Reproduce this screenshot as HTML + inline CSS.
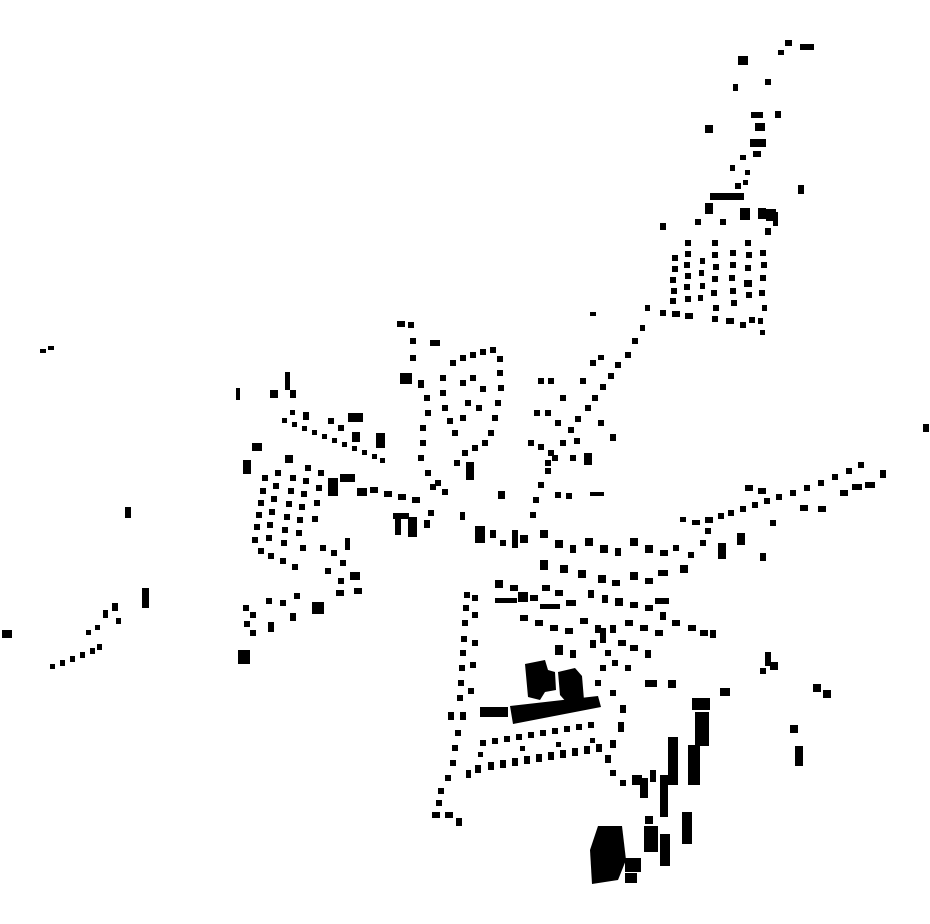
<!DOCTYPE html>
<html><head><meta charset="utf-8"><style>html,body{margin:0;padding:0;background:#fff}svg{display:block}</style></head>
<body>
<svg width="930" height="924" viewBox="0 0 930 924" xmlns="http://www.w3.org/2000/svg">
<g fill="#000">
<!-- north arm -->
<rect x="785" y="40" width="7" height="6"/><rect x="800" y="44" width="14" height="6"/><rect x="778" y="50" width="6" height="5"/><rect x="738" y="56" width="10" height="9"/><rect x="765" y="79" width="6" height="6"/><rect x="733" y="84" width="5" height="7"/><rect x="775" y="111" width="6" height="7"/><rect x="751" y="112" width="12" height="6"/><rect x="755" y="123" width="10" height="8"/><rect x="705" y="125" width="8" height="8"/><rect x="750" y="139" width="16" height="8"/><rect x="740" y="155" width="6" height="5"/><rect x="753" y="151" width="8" height="6"/><rect x="730" y="165" width="5" height="6"/><rect x="745" y="170" width="5" height="5"/><rect x="735" y="183" width="6" height="6"/><rect x="743" y="180" width="5" height="5"/><rect x="798" y="185" width="6" height="9"/><rect x="710" y="193" width="34" height="7"/><rect x="705" y="203" width="8" height="11"/><rect x="740" y="208" width="10" height="12"/><rect x="758" y="208" width="8" height="11"/><rect x="766" y="209" width="10" height="12"/><rect x="773" y="212" width="5" height="14"/><rect x="660" y="223" width="6" height="7"/><rect x="695" y="219" width="6" height="6"/><rect x="720" y="219" width="6" height="6"/><rect x="765" y="228" width="6" height="7"/>
<!-- NE grid -->
<rect x="672" y="255" width="6" height="6"/><rect x="672" y="266" width="6" height="6"/><rect x="670" y="277" width="6" height="6"/><rect x="671" y="288" width="6" height="6"/><rect x="670" y="298" width="6" height="6"/>
<rect x="685" y="240" width="6" height="6"/><rect x="685" y="251" width="6" height="6"/><rect x="684" y="262" width="6" height="6"/><rect x="685" y="273" width="6" height="6"/><rect x="684" y="284" width="6" height="6"/><rect x="685" y="296" width="6" height="6"/>
<rect x="700" y="258" width="5" height="6"/><rect x="699" y="270" width="5" height="6"/><rect x="700" y="283" width="5" height="6"/><rect x="698" y="295" width="5" height="6"/>
<rect x="712" y="240" width="6" height="6"/><rect x="712" y="252" width="6" height="6"/><rect x="713" y="264" width="6" height="6"/><rect x="712" y="276" width="6" height="6"/><rect x="711" y="290" width="6" height="6"/><rect x="713" y="305" width="6" height="6"/>
<rect x="730" y="250" width="6" height="6"/><rect x="730" y="262" width="6" height="6"/><rect x="729" y="275" width="6" height="6"/><rect x="730" y="288" width="6" height="6"/><rect x="731" y="300" width="6" height="6"/>
<rect x="745" y="240" width="6" height="6"/><rect x="746" y="252" width="6" height="6"/><rect x="745" y="265" width="6" height="6"/><rect x="744" y="280" width="8" height="7"/><rect x="746" y="292" width="6" height="6"/>
<rect x="760" y="250" width="6" height="6"/><rect x="761" y="262" width="6" height="6"/><rect x="760" y="275" width="6" height="6"/><rect x="759" y="290" width="6" height="6"/><rect x="762" y="305" width="5" height="6"/><rect x="758" y="318" width="5" height="6"/><rect x="760" y="330" width="5" height="5"/>
<rect x="660" y="310" width="6" height="6"/><rect x="672" y="311" width="8" height="6"/><rect x="685" y="313" width="8" height="6"/><rect x="712" y="316" width="6" height="6"/><rect x="726" y="318" width="8" height="6"/><rect x="740" y="322" width="6" height="6"/><rect x="749" y="317" width="6" height="6"/>
<!-- diagonal road -->
<rect x="645" y="305" width="5" height="6"/><rect x="640" y="325" width="5" height="6"/><rect x="632" y="338" width="6" height="6"/><rect x="625" y="352" width="6" height="6"/><rect x="615" y="362" width="6" height="6"/><rect x="608" y="373" width="6" height="6"/><rect x="600" y="384" width="6" height="6"/><rect x="592" y="395" width="6" height="6"/><rect x="585" y="405" width="6" height="6"/><rect x="575" y="416" width="6" height="6"/><rect x="568" y="427" width="6" height="6"/><rect x="560" y="440" width="6" height="6"/><rect x="552" y="455" width="6" height="6"/><rect x="545" y="468" width="6" height="6"/><rect x="538" y="482" width="6" height="6"/><rect x="533" y="497" width="6" height="6"/><rect x="530" y="512" width="6" height="6"/>
<rect x="580" y="378" width="6" height="6"/><rect x="590" y="360" width="6" height="6"/><rect x="598" y="355" width="6" height="5"/><rect x="560" y="395" width="6" height="6"/><rect x="574" y="438" width="6" height="6"/><rect x="584" y="453" width="8" height="12"/><rect x="570" y="455" width="6" height="6"/><rect x="555" y="420" width="6" height="6"/><rect x="610" y="434" width="6" height="7"/><rect x="598" y="420" width="6" height="6"/><rect x="590" y="312" width="6" height="4"/>
<rect x="538" y="378" width="6" height="6"/><rect x="548" y="378" width="6" height="6"/><rect x="534" y="410" width="6" height="6"/><rect x="545" y="410" width="6" height="6"/><rect x="528" y="440" width="6" height="6"/><rect x="538" y="444" width="6" height="6"/><rect x="548" y="450" width="6" height="6"/><rect x="545" y="460" width="6" height="6"/><rect x="555" y="492" width="6" height="6"/><rect x="566" y="493" width="6" height="6"/><rect x="590" y="492" width="14" height="4"/>
<!-- loop -->
<rect x="450" y="360" width="6" height="6"/><rect x="460" y="355" width="6" height="6"/><rect x="470" y="352" width="6" height="6"/><rect x="480" y="349" width="6" height="6"/><rect x="490" y="347" width="6" height="6"/><rect x="497" y="356" width="6" height="6"/><rect x="497" y="370" width="6" height="6"/><rect x="498" y="385" width="6" height="6"/><rect x="495" y="400" width="6" height="6"/><rect x="492" y="415" width="6" height="6"/><rect x="488" y="430" width="6" height="6"/><rect x="482" y="440" width="6" height="6"/><rect x="472" y="445" width="6" height="6"/><rect x="462" y="450" width="6" height="6"/><rect x="454" y="460" width="6" height="6"/>
<rect x="440" y="375" width="6" height="6"/><rect x="440" y="390" width="6" height="6"/><rect x="442" y="405" width="6" height="6"/><rect x="447" y="418" width="6" height="6"/><rect x="452" y="430" width="6" height="6"/><rect x="460" y="380" width="6" height="6"/><rect x="470" y="375" width="6" height="6"/><rect x="480" y="386" width="6" height="6"/><rect x="465" y="400" width="6" height="6"/><rect x="476" y="405" width="6" height="6"/><rect x="460" y="415" width="6" height="6"/>
<rect x="466" y="462" width="8" height="18"/><rect x="400" y="373" width="12" height="11"/><rect x="397" y="321" width="8" height="6"/><rect x="408" y="322" width="6" height="6"/><rect x="410" y="338" width="6" height="6"/><rect x="410" y="355" width="6" height="6"/><rect x="418" y="380" width="6" height="8"/><rect x="424" y="395" width="6" height="6"/><rect x="425" y="410" width="6" height="6"/><rect x="420" y="425" width="6" height="6"/><rect x="420" y="440" width="6" height="6"/><rect x="418" y="455" width="6" height="6"/><rect x="425" y="470" width="6" height="6"/><rect x="435" y="480" width="6" height="6"/><rect x="430" y="340" width="10" height="6"/>
<!-- west cluster -->
<rect x="236" y="388" width="4" height="12"/><rect x="270" y="390" width="8" height="8"/><rect x="285" y="372" width="5" height="18"/><rect x="290" y="390" width="6" height="8"/><rect x="290" y="410" width="5" height="5"/>
<rect x="282" y="418" width="5" height="5"/><rect x="292" y="422" width="5" height="5"/><rect x="302" y="426" width="5" height="5"/><rect x="312" y="430" width="5" height="5"/><rect x="322" y="434" width="5" height="5"/><rect x="332" y="438" width="5" height="5"/><rect x="342" y="442" width="5" height="5"/><rect x="352" y="446" width="5" height="5"/><rect x="362" y="450" width="5" height="5"/><rect x="372" y="454" width="5" height="5"/><rect x="380" y="458" width="5" height="5"/>
<rect x="303" y="412" width="6" height="8"/><rect x="328" y="418" width="6" height="6"/><rect x="338" y="425" width="6" height="6"/><rect x="348" y="413" width="15" height="9"/><rect x="352" y="432" width="8" height="10"/><rect x="376" y="433" width="9" height="15"/>
<rect x="243" y="460" width="8" height="14"/><rect x="252" y="443" width="10" height="8"/><rect x="285" y="455" width="8" height="8"/><rect x="328" y="478" width="10" height="18"/><rect x="340" y="474" width="15" height="8"/><rect x="357" y="488" width="10" height="8"/>
<rect x="262" y="475" width="6" height="6"/><rect x="260" y="488" width="6" height="6"/><rect x="258" y="500" width="6" height="6"/><rect x="256" y="512" width="6" height="6"/><rect x="254" y="524" width="6" height="6"/><rect x="252" y="537" width="6" height="6"/><rect x="258" y="548" width="6" height="6"/><rect x="268" y="553" width="6" height="6"/><rect x="280" y="558" width="6" height="6"/><rect x="292" y="564" width="6" height="6"/>
<rect x="275" y="470" width="6" height="6"/><rect x="273" y="483" width="6" height="6"/><rect x="271" y="496" width="6" height="6"/><rect x="269" y="509" width="6" height="6"/><rect x="267" y="522" width="6" height="6"/><rect x="266" y="535" width="6" height="6"/>
<rect x="290" y="475" width="6" height="6"/><rect x="288" y="488" width="6" height="6"/><rect x="286" y="501" width="6" height="6"/><rect x="284" y="514" width="6" height="6"/><rect x="282" y="527" width="6" height="6"/><rect x="281" y="540" width="6" height="6"/>
<rect x="305" y="465" width="6" height="6"/><rect x="303" y="478" width="6" height="6"/><rect x="301" y="491" width="6" height="6"/><rect x="299" y="504" width="6" height="6"/><rect x="297" y="517" width="6" height="6"/><rect x="296" y="530" width="6" height="6"/><rect x="300" y="545" width="6" height="6"/>
<rect x="318" y="470" width="6" height="6"/><rect x="316" y="485" width="6" height="6"/><rect x="314" y="500" width="6" height="6"/><rect x="312" y="516" width="6" height="6"/>
<!-- road east -->
<rect x="370" y="487" width="8" height="6"/><rect x="384" y="491" width="8" height="6"/><rect x="398" y="494" width="8" height="6"/><rect x="412" y="497" width="8" height="6"/><rect x="430" y="484" width="6" height="6"/><rect x="442" y="489" width="6" height="6"/><rect x="460" y="512" width="5" height="8"/><rect x="475" y="526" width="10" height="17"/><rect x="490" y="530" width="6" height="8"/><rect x="500" y="540" width="6" height="6"/><rect x="498" y="491" width="7" height="8"/>
<rect x="393" y="513" width="16" height="6"/><rect x="395" y="513" width="6" height="22"/><rect x="408" y="517" width="9" height="20"/><rect x="424" y="520" width="6" height="8"/><rect x="428" y="510" width="6" height="6"/>
<!-- far west -->
<rect x="40" y="349" width="6" height="4"/><rect x="48" y="346" width="6" height="4"/><rect x="125" y="507" width="6" height="11"/><rect x="142" y="588" width="7" height="20"/><rect x="2" y="630" width="10" height="8"/><rect x="50" y="664" width="5" height="5"/><rect x="60" y="660" width="5" height="6"/><rect x="70" y="656" width="5" height="6"/><rect x="80" y="652" width="5" height="6"/><rect x="90" y="648" width="5" height="6"/><rect x="97" y="644" width="5" height="6"/><rect x="95" y="625" width="5" height="5"/><rect x="103" y="610" width="5" height="8"/><rect x="112" y="603" width="6" height="8"/><rect x="116" y="618" width="5" height="6"/><rect x="86" y="630" width="5" height="5"/>
<rect x="243" y="605" width="6" height="6"/><rect x="250" y="612" width="6" height="6"/><rect x="244" y="621" width="6" height="6"/><rect x="250" y="630" width="6" height="6"/><rect x="238" y="650" width="12" height="14"/><rect x="266" y="598" width="6" height="6"/><rect x="280" y="600" width="6" height="6"/><rect x="294" y="593" width="6" height="6"/><rect x="290" y="613" width="6" height="8"/><rect x="268" y="622" width="6" height="10"/><rect x="312" y="602" width="12" height="12"/>
<rect x="320" y="545" width="6" height="6"/><rect x="331" y="550" width="6" height="6"/><rect x="345" y="538" width="5" height="12"/><rect x="340" y="560" width="6" height="6"/><rect x="350" y="572" width="10" height="8"/><rect x="354" y="588" width="8" height="6"/><rect x="336" y="590" width="8" height="6"/><rect x="325" y="568" width="6" height="6"/><rect x="338" y="578" width="6" height="6"/>
<!-- east arm -->
<rect x="680" y="517" width="6" height="5"/><rect x="692" y="520" width="8" height="5"/><rect x="705" y="517" width="8" height="6"/><rect x="718" y="513" width="6" height="6"/><rect x="728" y="510" width="6" height="6"/><rect x="740" y="506" width="6" height="6"/><rect x="752" y="502" width="6" height="6"/><rect x="764" y="498" width="6" height="6"/><rect x="776" y="494" width="6" height="6"/><rect x="790" y="490" width="6" height="6"/><rect x="804" y="485" width="6" height="6"/><rect x="818" y="480" width="6" height="6"/><rect x="832" y="474" width="6" height="6"/><rect x="846" y="468" width="6" height="6"/><rect x="858" y="462" width="6" height="6"/>
<rect x="718" y="543" width="8" height="16"/><rect x="737" y="533" width="8" height="12"/><rect x="760" y="553" width="6" height="8"/><rect x="770" y="520" width="6" height="6"/><rect x="745" y="485" width="8" height="6"/><rect x="758" y="488" width="8" height="6"/><rect x="800" y="505" width="8" height="6"/><rect x="818" y="506" width="8" height="6"/><rect x="840" y="490" width="8" height="6"/><rect x="852" y="484" width="10" height="6"/><rect x="865" y="482" width="10" height="6"/><rect x="880" y="470" width="6" height="8"/><rect x="923" y="424" width="6" height="8"/><rect x="700" y="540" width="6" height="6"/><rect x="688" y="552" width="6" height="6"/><rect x="705" y="528" width="6" height="6"/>
<!-- center south scattered -->
<rect x="512" y="530" width="6" height="18"/><rect x="520" y="535" width="8" height="8"/><rect x="540" y="530" width="8" height="8"/><rect x="555" y="540" width="8" height="8"/><rect x="570" y="545" width="6" height="8"/><rect x="585" y="538" width="8" height="8"/><rect x="600" y="545" width="8" height="8"/><rect x="615" y="548" width="6" height="8"/><rect x="630" y="538" width="8" height="8"/><rect x="645" y="545" width="8" height="8"/><rect x="660" y="550" width="8" height="6"/><rect x="673" y="545" width="6" height="6"/>
<rect x="540" y="560" width="8" height="10"/><rect x="560" y="565" width="8" height="8"/><rect x="578" y="570" width="8" height="8"/><rect x="598" y="575" width="8" height="8"/><rect x="612" y="580" width="8" height="6"/><rect x="630" y="572" width="8" height="8"/><rect x="645" y="578" width="8" height="6"/><rect x="658" y="570" width="10" height="6"/><rect x="680" y="565" width="8" height="8"/>
<rect x="495" y="580" width="8" height="8"/><rect x="510" y="585" width="8" height="6"/><rect x="518" y="592" width="10" height="10"/><rect x="530" y="595" width="8" height="6"/><rect x="542" y="585" width="8" height="6"/><rect x="555" y="590" width="8" height="6"/><rect x="495" y="598" width="22" height="5"/><rect x="540" y="604" width="20" height="5"/><rect x="566" y="600" width="10" height="6"/>
<rect x="588" y="590" width="6" height="8"/><rect x="602" y="595" width="6" height="8"/><rect x="615" y="598" width="8" height="8"/><rect x="630" y="602" width="8" height="6"/><rect x="645" y="605" width="8" height="6"/><rect x="655" y="598" width="14" height="6"/><rect x="660" y="612" width="6" height="8"/><rect x="672" y="620" width="8" height="6"/><rect x="688" y="625" width="8" height="6"/><rect x="700" y="630" width="8" height="6"/><rect x="710" y="630" width="6" height="8"/>
<rect x="520" y="615" width="8" height="6"/><rect x="535" y="620" width="8" height="6"/><rect x="550" y="625" width="8" height="6"/><rect x="565" y="628" width="8" height="6"/><rect x="580" y="618" width="8" height="6"/><rect x="595" y="625" width="6" height="8"/><rect x="610" y="625" width="6" height="8"/><rect x="625" y="620" width="8" height="6"/><rect x="640" y="625" width="8" height="6"/><rect x="655" y="630" width="8" height="6"/>
<rect x="555" y="645" width="8" height="10"/><rect x="570" y="650" width="6" height="8"/><rect x="590" y="640" width="6" height="8"/><rect x="600" y="628" width="6" height="15"/><rect x="605" y="650" width="6" height="6"/><rect x="618" y="640" width="8" height="6"/><rect x="630" y="645" width="8" height="6"/><rect x="645" y="650" width="6" height="8"/><rect x="612" y="660" width="6" height="6"/><rect x="625" y="665" width="6" height="6"/><rect x="600" y="665" width="6" height="6"/><rect x="645" y="680" width="12" height="7"/><rect x="668" y="680" width="8" height="8"/>
<rect x="595" y="680" width="6" height="6"/><rect x="610" y="690" width="6" height="6"/><rect x="620" y="705" width="6" height="8"/><rect x="618" y="722" width="6" height="10"/><rect x="610" y="740" width="6" height="8"/><rect x="605" y="755" width="6" height="8"/><rect x="610" y="770" width="6" height="6"/><rect x="620" y="780" width="6" height="6"/>
<!-- left column south -->
<rect x="464" y="592" width="6" height="6"/><rect x="463" y="605" width="6" height="6"/><rect x="462" y="620" width="6" height="6"/><rect x="461" y="636" width="6" height="6"/><rect x="460" y="650" width="6" height="6"/><rect x="459" y="665" width="6" height="6"/><rect x="458" y="680" width="6" height="6"/><rect x="457" y="695" width="6" height="6"/><rect x="448" y="712" width="6" height="8"/><rect x="460" y="712" width="6" height="8"/><rect x="455" y="730" width="6" height="6"/><rect x="452" y="745" width="6" height="6"/><rect x="450" y="760" width="6" height="6"/><rect x="445" y="775" width="6" height="6"/><rect x="438" y="788" width="6" height="6"/><rect x="436" y="800" width="6" height="6"/><rect x="432" y="812" width="8" height="6"/><rect x="445" y="812" width="8" height="6"/><rect x="456" y="818" width="6" height="8"/>
<rect x="472" y="595" width="6" height="6"/><rect x="472" y="612" width="6" height="6"/><rect x="472" y="640" width="6" height="6"/><rect x="470" y="662" width="6" height="6"/><rect x="468" y="688" width="6" height="6"/>
<!-- rows near school -->
<rect x="480" y="740" width="6" height="6"/><rect x="492" y="738" width="6" height="6"/><rect x="504" y="736" width="6" height="6"/><rect x="516" y="734" width="6" height="6"/><rect x="528" y="732" width="6" height="6"/><rect x="540" y="730" width="6" height="6"/><rect x="552" y="728" width="6" height="6"/><rect x="564" y="726" width="6" height="6"/><rect x="576" y="724" width="6" height="6"/><rect x="588" y="722" width="6" height="6"/>
<rect x="475" y="765" width="6" height="8"/><rect x="488" y="762" width="6" height="8"/><rect x="500" y="760" width="6" height="8"/><rect x="512" y="758" width="6" height="8"/><rect x="524" y="756" width="6" height="8"/><rect x="536" y="754" width="6" height="8"/><rect x="548" y="752" width="6" height="8"/><rect x="560" y="750" width="6" height="8"/><rect x="572" y="748" width="6" height="8"/><rect x="584" y="746" width="6" height="8"/><rect x="596" y="744" width="6" height="8"/>
<rect x="478" y="752" width="5" height="5"/><rect x="520" y="746" width="5" height="5"/><rect x="556" y="742" width="5" height="5"/><rect x="590" y="738" width="5" height="5"/><rect x="466" y="770" width="5" height="8"/>
<!-- big school blocks -->
<path d="M525 664 L545 660 L548 670 L555 672 L556 690 L545 692 L540 700 L528 697 Z"/>
<path d="M558 672 L575 668 L582 676 L584 700 L568 704 L560 695 Z"/>
<path d="M510 706 L598 696 L601 707 L513 724 Z"/>
<rect x="480" y="707" width="28" height="10"/>
<!-- south-east bars -->
<rect x="692" y="698" width="18" height="12"/><rect x="695" y="712" width="14" height="34"/><rect x="688" y="745" width="12" height="40"/><rect x="668" y="737" width="10" height="48"/><rect x="660" y="775" width="8" height="42"/><rect x="682" y="812" width="10" height="32"/><rect x="640" y="778" width="8" height="20"/><rect x="632" y="775" width="10" height="10"/><rect x="650" y="770" width="6" height="12"/>
<rect x="720" y="688" width="10" height="8"/><rect x="765" y="652" width="6" height="14"/><rect x="770" y="662" width="8" height="8"/><rect x="760" y="668" width="6" height="6"/><rect x="790" y="725" width="8" height="8"/><rect x="795" y="746" width="8" height="20"/><rect x="813" y="684" width="8" height="8"/><rect x="823" y="690" width="8" height="8"/>
<!-- bottom big -->
<path d="M598 826 L622 826 L626 860 L618 880 L592 884 L590 850 Z"/>
<rect x="625" y="858" width="16" height="14"/><rect x="625" y="873" width="12" height="10"/><rect x="644" y="826" width="14" height="26"/><rect x="660" y="834" width="10" height="32"/><rect x="645" y="816" width="8" height="8"/>
</g>
</svg>
</body></html>
